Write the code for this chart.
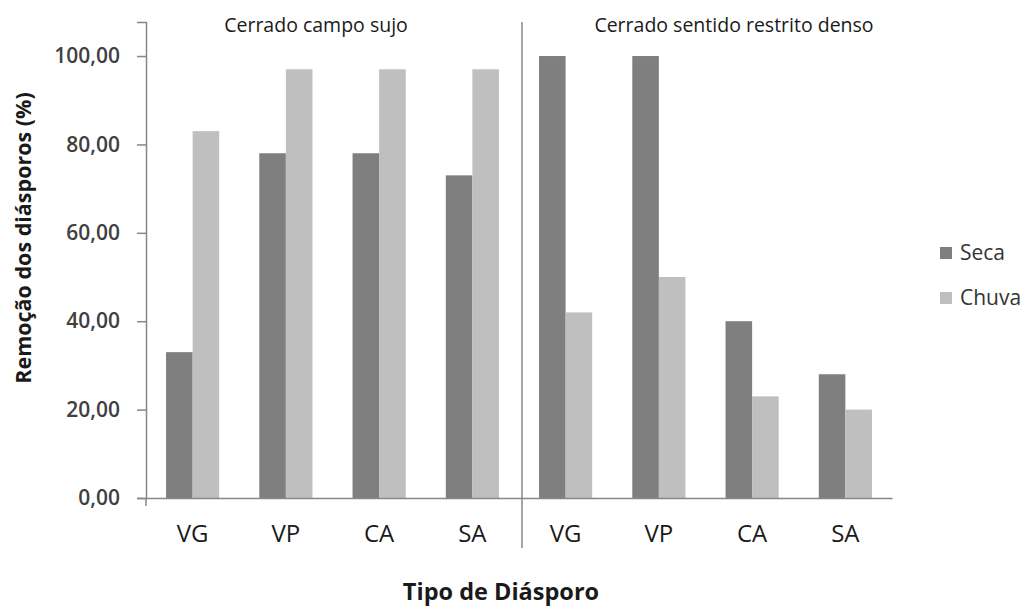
<!DOCTYPE html>
<html>
<head>
<meta charset="utf-8">
<script src="https://cdn.jsdelivr.net/npm/d3@7"></script>
<style>
  body { margin: 0; background: #fff; }
  text { font-family: "Open Sans", sans-serif; }
</style>
</head>
<body>
<div class="svgContainer"></div>
<script>
// data
let panels = ["Cerrado campo sujo", "Cerrado sentido restrito denso"];
let diasporos = ["VG", "VP", "CA", "SA"];
let seca = [33, 78, 78, 73, 100, 100, 40, 28];
let chuva = [83, 97, 97, 97, 42, 50, 23, 20];
let series = ["Seca", "Chuva"];
let yTicks = [0, 20, 40, 60, 80, 100];

let width = 1030,
  height = 608,
  plotLeft = 146,
  plotRight = 892,
  plotBottom = 498,
  plotTop = 22;

let colors = { Seca: "#7f7f7f", Chuva: "#bfbfbf" };

let svg = d3
  .select(".svgContainer")
  .append("svg")
  .attr("width", width)
  .attr("height", height);

// one slot per panel/category pair
let slots = [];
panels.forEach((p, pi) => {
  diasporos.forEach((d, di) => {
    slots.push({ key: pi + "-" + d, label: d, i: pi * diasporos.length + di });
  });
});

let xScale = d3
  .scaleBand()
  .domain(slots.map(s => s.key))
  .range([plotLeft, plotRight])
  .paddingInner(0.43)
  .paddingOuter(0.215);

let xInner = d3
  .scaleBand()
  .domain(series)
  .range([0, xScale.bandwidth()]);

let yScale = d3
  .scaleLinear()
  .domain([0, 107.7])
  .range([plotBottom, plotTop]);

// y axis
let yAxis = d3
  .axisLeft(yScale)
  .tickValues(yTicks)
  .tickSize(9)
  .tickPadding(17)
  .tickFormat(d => d3.format(".2f")(d).replace(".", ","));

let yAxisGroup = svg
  .append("g")
  .attr("transform", "translate(" + plotLeft + ",0)")
  .call(yAxis);

yAxisGroup.select(".domain").attr("stroke", "#878787").attr("stroke-width", 1.5);
yAxisGroup.selectAll(".tick line").attr("stroke", "#878787").attr("stroke-width", 1.5);
yAxisGroup
  .selectAll(".tick text")
  .attr("font-size", 21)
  .attr("font-weight", 600)
  .attr("fill", "#404040");

// bars
slots.forEach(s => {
  let g = svg.append("g").attr("transform", "translate(" + xScale(s.key) + ",0)");
  let vals = [
    { name: "Seca", v: seca[s.i] },
    { name: "Chuva", v: chuva[s.i] }
  ];
  g.selectAll("rect")
    .data(vals)
    .enter()
    .append("rect")
    .attr("x", d => xInner(d.name))
    .attr("y", d => yScale(d.v))
    .attr("width", xInner.bandwidth())
    .attr("height", d => plotBottom - yScale(d.v))
    .style("fill", d => colors[d.name]);
});

// x axis
let xAxis = d3
  .axisBottom(xScale)
  .tickSize(0)
  .tickPadding(27)
  .tickFormat(k => k.split("-")[1]);

let xAxisGroup = svg
  .append("g")
  .attr("transform", "translate(0," + plotBottom + ")")
  .call(xAxis);

xAxisGroup.select(".domain").attr("stroke", "#878787").attr("stroke-width", 1.5);
xAxisGroup
  .selectAll(".tick text")
  .attr("font-size", 24)
  .attr("fill", "#1a1a1a");

// small tick under the origin
svg
  .append("line")
  .attr("x1", plotLeft)
  .attr("x2", plotLeft)
  .attr("y1", plotBottom)
  .attr("y2", plotBottom + 8)
  .attr("stroke", "#878787")
  .attr("stroke-width", 1.5);

// divider between panels
let divX = xScale(slots[diasporos.length].key) - xScale.step() * xScale.paddingInner() / 2 + 3;
svg
  .append("line")
  .attr("x1", divX)
  .attr("x2", divX)
  .attr("y1", plotTop)
  .attr("y2", 548)
  .attr("stroke", "#878787")
  .attr("stroke-width", 1.5);

// panel titles
svg
  .append("text")
  .attr("x", 316)
  .attr("y", 32)
  .attr("text-anchor", "middle")
  .attr("font-size", 19.5)
  .attr("fill", "#1a1a1a")
  .text(panels[0]);

svg
  .append("text")
  .attr("x", 734)
  .attr("y", 32)
  .attr("text-anchor", "middle")
  .attr("font-size", 19.5)
  .attr("fill", "#1a1a1a")
  .text(panels[1]);

// axis titles
svg
  .append("text")
  .attr("transform", "rotate(-90)")
  .attr("x", -238)
  .attr("y", 31)
  .attr("text-anchor", "middle")
  .attr("font-size", 21.5)
  .attr("font-weight", 700)
  .attr("fill", "#1a1a1a")
  .text("Remoção dos diásporos (%)");

svg
  .append("text")
  .attr("x", 501)
  .attr("y", 600)
  .attr("text-anchor", "middle")
  .attr("font-size", 23.5)
  .attr("font-weight", 700)
  .attr("fill", "#1a1a1a")
  .text("Tipo de Diásporo");

// legend
let legend = svg
  .selectAll(".legend")
  .data(series)
  .enter()
  .append("g")
  .attr("class", "legend")
  .attr("transform", (d, i) => "translate(940," + (247 + i * 45) + ")");

legend
  .append("rect")
  .attr("width", 12)
  .attr("height", 12)
  .style("fill", d => colors[d]);

legend
  .append("text")
  .attr("x", 20)
  .attr("y", 13)
  .attr("font-size", 21)
  .attr("fill", "#333")
  .text(d => d);
</script>
</body>
</html>
